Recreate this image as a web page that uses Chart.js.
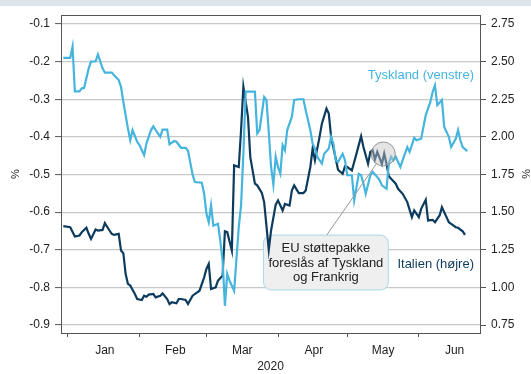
<!DOCTYPE html>
<html>
<head>
<meta charset="utf-8">
<script src="https://cdn.jsdelivr.net/npm/chart.js@4.4.1/dist/chart.umd.min.js"></script>
<style>
  html, body { margin: 0; padding: 0; background: #fff; }
  canvas { display: block; }
</style>
</head>
<body>
<canvas id="chart" width="531" height="374"></canvas>
<script>
// x values are days since 1 Jan 2020
const monthStarts = [0, 31, 60, 91, 121, 152];
const monthMids = [16, 46.5, 75.5, 106.5, 136.5, 167.5];
const monthLabels = ["Jan", "Feb", "Mar", "Apr", "May", "Jun"];
const leftTicks = [-0.9, -0.8, -0.7, -0.6, -0.5, -0.4, -0.3, -0.2, -0.1];
const rightTicks = [0.75, 1.0, 1.25, 1.5, 1.75, 2.0, 2.25, 2.5, 2.75];

// Tyskland 10y (venstre akse)
const deDays = [-2, 1, 2, 3, 5, 6, 7, 9, 10, 12, 13, 15, 16, 19, 20, 22, 23, 24, 26, 27, 28, 30, 31, 33, 34, 36, 37, 39, 40, 41, 43, 44, 46, 47, 49, 51, 52, 54, 55, 58, 59, 60, 61, 62, 63, 65, 66, 67, 68, 69, 70, 72, 74, 75, 76, 77, 80, 81, 82, 83, 85, 86, 87, 88, 89, 90, 91, 92, 93, 94, 95, 97, 98, 100, 102, 103, 105, 106, 107, 108, 110, 111, 113, 114, 115, 116, 117, 119, 120, 121, 123, 124, 126, 127, 128, 129, 131, 132, 134, 135, 136, 138, 139, 140, 141, 142, 144, 145, 147, 148, 149, 150, 151, 153, 154, 155, 157, 158, 159, 160, 162, 163, 165, 166, 168, 169, 170, 171, 173];
const deVals = [-0.19, -0.19, -0.16, -0.279, -0.279, -0.271, -0.27, -0.218, -0.2, -0.199, -0.181, -0.218, -0.229, -0.229, -0.236, -0.249, -0.267, -0.307, -0.378, -0.409, -0.382, -0.413, -0.422, -0.449, -0.418, -0.382, -0.372, -0.391, -0.4, -0.381, -0.381, -0.42, -0.411, -0.413, -0.429, -0.429, -0.437, -0.5, -0.52, -0.522, -0.551, -0.604, -0.627, -0.582, -0.636, -0.631, -0.675, -0.729, -0.849, -0.764, -0.782, -0.809, -0.64, -0.582, -0.445, -0.28, -0.28, -0.28, -0.391, -0.382, -0.294, -0.302, -0.387, -0.48, -0.527, -0.453, -0.48, -0.498, -0.422, -0.436, -0.382, -0.347, -0.302, -0.3, -0.3, -0.329, -0.382, -0.418, -0.431, -0.453, -0.471, -0.445, -0.431, -0.4, -0.418, -0.462, -0.467, -0.445, -0.462, -0.502, -0.502, -0.569, -0.498, -0.502, -0.524, -0.551, -0.502, -0.493, -0.507, -0.515, -0.529, -0.538, -0.471, -0.453, -0.462, -0.453, -0.48, -0.462, -0.427, -0.44, -0.422, -0.402, -0.409, -0.405, -0.374, -0.342, -0.307, -0.28, -0.263, -0.316, -0.302, -0.374, -0.4, -0.427, -0.405, -0.382, -0.409, -0.427, -0.438];

// Italien 10y (hoejre akse)
const itDays = [-2, 1, 3, 5, 6, 8, 9, 10, 12, 13, 15, 16, 18, 19, 20, 22, 23, 24, 25, 26, 27, 29, 30, 32, 33, 34, 35, 37, 38, 40, 41, 43, 44, 45, 47, 48, 49, 51, 52, 54, 56, 57, 59, 60, 61, 62, 64, 65, 67, 68, 69, 71, 72, 74, 75, 76, 78, 79, 81, 82, 84, 85, 87, 88, 90, 91, 93, 94, 96, 97, 98, 100, 102, 103, 105, 106, 107, 109, 110, 112, 113, 114, 116, 117, 119, 120, 121, 123, 125, 127, 128, 130, 131, 132, 133, 134, 135, 136, 137, 138, 139, 140, 142, 143, 145, 147, 149, 150, 152, 153, 155, 156, 158, 159, 161, 162, 164, 165, 166, 168, 169, 171, 172];
const itVals = [1.407, 1.4, 1.338, 1.345, 1.367, 1.396, 1.356, 1.322, 1.385, 1.378, 1.382, 1.427, 1.378, 1.356, 1.349, 1.356, 1.245, 1.227, 1.089, 1.023, 1.012, 0.956, 0.923, 0.916, 0.945, 0.938, 0.952, 0.956, 0.934, 0.945, 0.96, 0.923, 0.889, 0.901, 0.894, 0.923, 0.923, 0.916, 0.889, 0.945, 0.967, 0.978, 1.067, 1.123, 1.156, 0.989, 1.0, 1.045, 1.078, 1.373, 1.367, 1.245, 1.811, 1.8, 2.044, 2.333, 2.133, 1.866, 1.689, 1.678, 1.627, 1.567, 1.25, 1.378, 1.55, 1.578, 1.511, 1.555, 1.544, 1.644, 1.678, 1.627, 1.627, 1.644, 1.8, 1.922, 1.844, 2.0, 2.088, 2.188, 2.155, 2.0, 1.855, 1.782, 1.755, 1.804, 1.8, 1.777, 1.889, 2.004, 1.933, 1.822, 1.9, 1.911, 1.85, 1.9, 1.86, 1.82, 1.889, 1.822, 1.738, 1.722, 1.689, 1.655, 1.622, 1.567, 1.467, 1.511, 1.467, 1.522, 1.582, 1.445, 1.449, 1.433, 1.478, 1.533, 1.467, 1.433, 1.422, 1.4, 1.396, 1.373, 1.349];

const deColor = "#45b5de";
const itColor = "#0d3b5e";
const fontFamily = '"Liberation Sans", Arial, sans-serif';

// annotation anchors (data coords)
const noteLines = ["EU støttepakke", "foreslås af Tyskland", "og Frankrig"];
const noteBox = { x0: 84.7, x1: 138.8, yTop: -0.661, yBot: -0.807 };
const noteCircle = { x: 136.6, y: -0.4455 };
const noteStart = { x: 112.1, y: -0.661 };
const deLabel = { text: "Tyskland (venstre)", x: 175.9, y: -0.238 };
const itLabel = { text: "Italien (højre)", x: 175.9, y: 1.155 };

Chart.defaults.font.family = fontFamily;
Chart.defaults.font.size = 12;
Chart.defaults.color = "#222";

const extras = {
  id: "extras",
  beforeDraw(chart) {
    const ctx = chart.ctx;
    ctx.save();
    ctx.fillStyle = "#fff";
    ctx.fillRect(0, 0, chart.width, chart.height);
    ctx.fillStyle = "#dde5ec";
    ctx.fillRect(0, 0, chart.width, 6);
    ctx.restore();
  },
  beforeDatasetsDraw(chart) {
    const { ctx, scales: { x, y } } = chart;
    const l = x.getPixelForValue(noteBox.x0);
    const r = x.getPixelForValue(noteBox.x1);
    const t = y.getPixelForValue(noteBox.yTop);
    const b = y.getPixelForValue(noteBox.yBot);
    ctx.save();
    ctx.beginPath();
    ctx.roundRect(l, t, r - l, b - t, 8);
    ctx.fillStyle = "#efefef";
    ctx.fill();
    ctx.strokeStyle = "#a9d9ea";
    ctx.lineWidth = 1;
    ctx.stroke();
    ctx.fillStyle = "#222";
    ctx.font = "13px " + fontFamily;
    ctx.textAlign = "center";
    ctx.textBaseline = "middle";
    noteLines.forEach((s, i) => ctx.fillText(s, (l + r) / 2, t + 13.5 + i * 14.5));
    ctx.restore();
  },
  afterDatasetsDraw(chart) {
    const { ctx, chartArea, scales: { x, y, y1 } } = chart;
    ctx.save();
    // connector + circle
    const cx = x.getPixelForValue(noteCircle.x), cy = y.getPixelForValue(noteCircle.y);
    const sx = x.getPixelForValue(noteStart.x), sy = y.getPixelForValue(noteStart.y);
    const rad = 12;
    const d = Math.hypot(cx - sx, cy - sy);
    ctx.beginPath();
    ctx.moveTo(sx, sy);
    ctx.lineTo(cx - (cx - sx) / d * rad, cy - (cy - sy) / d * rad);
    ctx.strokeStyle = "#9a9a9a";
    ctx.lineWidth = 1;
    ctx.stroke();
    ctx.beginPath();
    ctx.arc(cx, cy, rad, 0, Math.PI * 2);
    ctx.fillStyle = "rgba(195,195,195,0.45)";
    ctx.fill();
    ctx.strokeStyle = "rgba(140,140,140,0.9)";
    ctx.stroke();
    // series labels
    ctx.font = "13px " + fontFamily;
    ctx.textAlign = "right";
    ctx.textBaseline = "middle";
    ctx.fillStyle = deColor;
    ctx.fillText(deLabel.text, x.getPixelForValue(deLabel.x), y.getPixelForValue(deLabel.y));
    ctx.fillStyle = itColor;
    ctx.fillText(itLabel.text, x.getPixelForValue(itLabel.x), y1.getPixelForValue(itLabel.y));
    // top frame line
    ctx.beginPath();
    ctx.moveTo(chartArea.left, chartArea.top + 0.5);
    ctx.lineTo(chartArea.right, chartArea.top + 0.5);
    ctx.strokeStyle = "#555";
    ctx.stroke();
    ctx.restore();
  }
};

new Chart(document.getElementById("chart"), {
  type: "line",
  data: {
    datasets: [
      {
        label: "Tyskland (venstre)",
        data: deDays.map((d, i) => ({ x: d, y: deVals[i] })),
        borderColor: deColor,
        yAxisID: "y",
        xAxisID: "x"
      },
      {
        label: "Italien (højre)",
        data: itDays.map((d, i) => ({ x: d, y: itVals[i] })),
        borderColor: itColor,
        yAxisID: "y1",
        xAxisID: "x"
      }
    ]
  },
  options: {
    responsive: false,
    animation: false,
    devicePixelRatio: 1,
    layout: { padding: { top: 15, left: 0, right: 0, bottom: 0 } },
    elements: {
      point: { radius: 0 },
      line: { borderWidth: 2.2, tension: 0 }
    },
    plugins: { legend: { display: false }, tooltip: { enabled: false } },
    scales: {
      x: {
        type: "linear",
        position: "bottom",
        weight: 0,
        min: -3,
        max: 178.5,
        afterBuildTicks: (s) => { s.ticks = monthStarts.map((v) => ({ value: v })); },
        ticks: { display: false },
        grid: { drawOnChartArea: false, drawTicks: true, tickLength: 4, tickColor: "#555", tickWidth: 1 },
        border: { color: "#555", width: 1 },
        afterFit: (s) => { s.height = 4; }
      },
      x2: {
        type: "linear",
        position: "bottom",
        weight: 1,
        min: -3,
        max: 178.5,
        afterBuildTicks: (s) => { s.ticks = monthMids.map((v) => ({ value: v })); },
        ticks: {
          autoSkip: false,
          maxRotation: 0,
          padding: 6,
          callback: (v, i) => monthLabels[i]
        },
        grid: { display: false, drawTicks: false },
        border: { display: false },
        title: { display: true, text: "2020", padding: { top: 0, bottom: 0 } },
        afterFit: (s) => { s.height = 37; }
      },
      y: {
        type: "linear",
        position: "left",
        min: -0.9213,
        max: -0.0761,
        afterBuildTicks: (s) => { s.ticks = leftTicks.map((v) => ({ value: v })); },
        ticks: { padding: 5, callback: (v) => v.toFixed(1) },
        grid: { color: "#c8c8c8", lineWidth: 1.2, tickColor: "#555", tickWidth: 1, tickLength: 6 },
        border: { color: "#555", width: 1 },
        title: { display: true, text: "%", font: { size: 11, lineHeight: 1 }, padding: { top: 10 } },
        afterFit: (s) => { s.width = 61; }
      },
      y1: {
        type: "linear",
        position: "right",
        min: 0.697,
        max: 2.81,
        afterBuildTicks: (s) => { s.ticks = rightTicks.map((v) => ({ value: v })); },
        ticks: { padding: 5, callback: (v) => v.toFixed(2) },
        grid: { drawOnChartArea: false, tickColor: "#555", tickWidth: 1, tickLength: 6 },
        border: { color: "#555", width: 1 },
        title: { display: true, text: "%", font: { size: 11, lineHeight: 1 }, padding: { top: 0 } },
        afterFit: (s) => { s.width = 51; }
      }
    }
  },
  plugins: [extras]
});
</script>
</body>
</html>
